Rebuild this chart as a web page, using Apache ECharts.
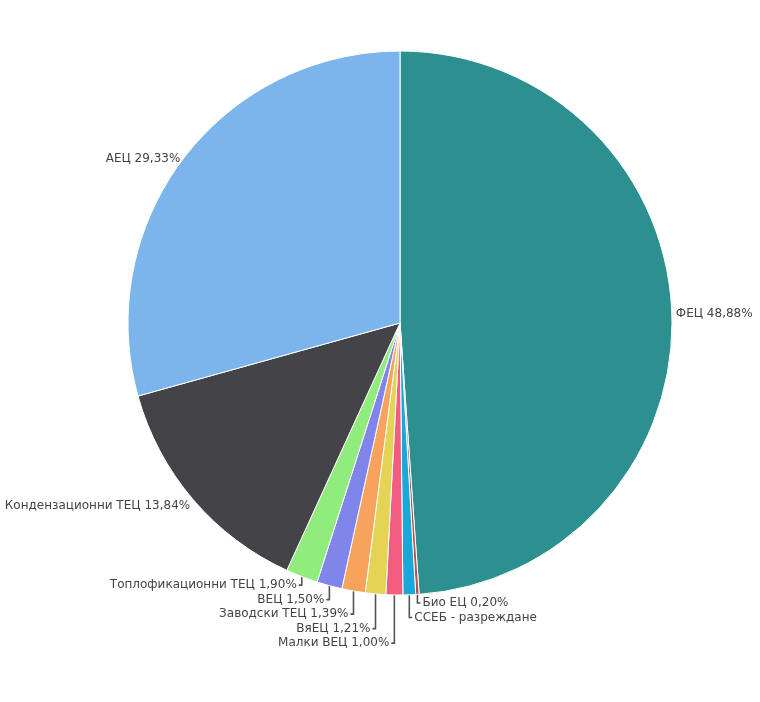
<!DOCTYPE html>
<html>
<head>
<meta charset="utf-8">
<script src="https://cdn.jsdelivr.net/npm/echarts@6/dist/echarts.min.js"></script>
<style>
  html, body { margin: 0; padding: 0; background: #fff; }
  #chart { width: 760px; height: 702px; }
</style>
</head>
<body>
<div id="chart"></div>
<script>
// дял от производството, %
var names = ['ФЕЦ', 'Био ЕЦ', 'ССЕБ - разреждане', 'Малки ВЕЦ', 'ВяЕЦ', 'Заводски ТЕЦ', 'ВЕЦ', 'Топлофикационни ТЕЦ', 'Кондензационни ТЕЦ', 'АЕЦ'];
var shares = [48.88, 0.20, 0.75, 1.00, 1.21, 1.39, 1.50, 1.90, 13.84, 29.33];
var showPct = [true, true, false, true, true, true, true, true, true, true];
var colors = ['#2b908f', '#b5524e', '#1aa8d8', '#f15c80', '#e4d354', '#f7a35c', '#8085e9', '#90ed7d', '#434348', '#7cb5ec'];

var CX = 400, CY = 323, R = 272;

// точки на ръба на всеки сектор (по средния ъгъл), като при pie с startAngle 90, по часовника
var total = shares.reduce(function (a, b) { return a + b; }, 0);
var anchors = [];
var acc = 0;
shares.forEach(function (v) {
    var mid = (acc + v / 2) / total * Math.PI * 2;
    anchors.push({ x: CX + R * Math.sin(mid), y: CY - R * Math.cos(mid), big: v > 5 });
    acc += v;
});

// подреждане на малките етикети под кръга — вертикално едно под друго
var placed = [];
var left = [], right = [];
anchors.forEach(function (a, i) {
    if (a.big) return;
    (a.x < CX ? left : right).push(i);
});
left.sort(function (a, b) { return anchors[a].x - anchors[b].x; });
right.sort(function (a, b) { return anchors[b].x - anchors[a].x; });
[left, right].forEach(function (grp) {
    var prev = -1e9;
    grp.forEach(function (i) {
        var a = anchors[i];
        var y = Math.max(a.y + 8.5, prev + 14.5);
        prev = y;
        placed[i] = y;
    });
});

var data = names.map(function (n, i) {
    return {
        name: n,
        value: shares[i],
        itemStyle: { color: colors[i] },
        labelLine: { show: !anchors[i].big }
    };
});

var option = {
    backgroundColor: '#fff',
    animation: false,
    series: [
        {
            type: 'pie',
            center: [CX, CY],
            radius: R,
            startAngle: 90,
            clockwise: true,
            data: data,
            itemStyle: { borderColor: '#fff', borderWidth: 1 },
            label: {
                show: true,
                color: '#444',
                fontSize: 12,
                fontFamily: 'DejaVu Sans, Verdana, sans-serif',
                overflow: 'none',
                formatter: function (p) {
                    if (!showPct[p.dataIndex]) return p.name;
                    return p.name + ' ' + p.value.toFixed(2).replace('.', ',') + '%';
                }
            },
            labelLine: {
                show: true,
                length: 6,
                length2: 4,
                lineStyle: { color: '#555', width: 1.6 }
            },
            labelLayout: function (params) {
                var i = params.dataIndex;
                var a = anchors[i];
                var isLeft = a.x < CX;
                if (a.big) {
                    return {
                        x: isLeft ? a.x - 3 : a.x + 4,
                        y: a.y < CY ? a.y + 0.5 : a.y + 6.5,
                        align: isLeft ? 'right' : 'left',
                        verticalAlign: 'middle'
                    };
                }
                var y = placed[i];
                return {
                    x: isLeft ? a.x - 5 : a.x + 5,
                    y: y,
                    align: isLeft ? 'right' : 'left',
                    verticalAlign: 'middle',
                    labelLinePoints: [[a.x, a.y], [a.x, y], [isLeft ? a.x - 3 : a.x + 3, y]]
                };
            }
        }
    ]
};

var myChart = echarts.init(document.getElementById('chart'));
myChart.setOption(option);
</script>
</body>
</html>
